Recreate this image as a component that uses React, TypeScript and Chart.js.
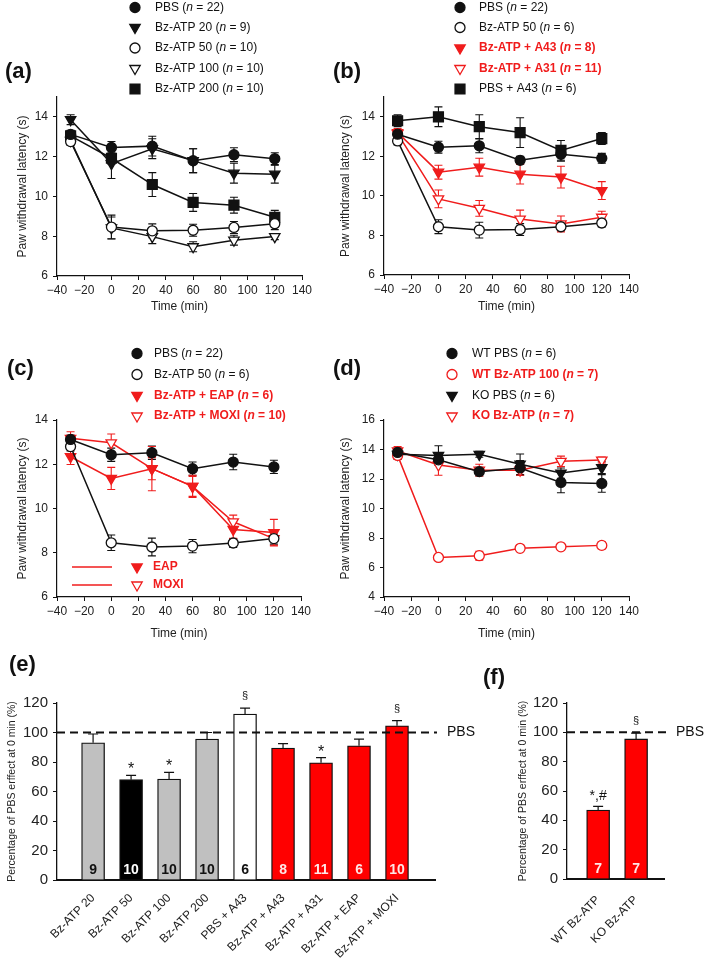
import React, { useEffect, useRef } from "react";
import { Chart, registerables } from "chart.js";
import { drawPoint } from "chart.js/helpers";

Chart.register(...registerables);

const FONT = "'Liberation Sans', Arial, Helvetica, sans-serif";
Chart.defaults.font.family = FONT;
Chart.defaults.color = "#222";

// ---------------- data ----------------
const timePoints = [-30, 0, 30, 60, 90, 120];
const timeTicks = [-40, -20, 0, 20, 40, 60, 80, 100, 120, 140];

// (a)
const aPBS = [13.12, 12.46, 12.53, 11.8, 12.1, 11.9];
const aPBSErr = [0.2, 0.3, 0.5, 0.6, 0.35, 0.3];
const aBz20 = [13.86, 11.65, 12.4, 11.8, 11.17, 11.12];
const aBz20Err = [0.25, 0.75, 0.5, 0.6, 0.5, 0.45];
const aBz50 = [12.76, 8.46, 8.27, 8.3, 8.44, 8.63];
const aBz50Err = [0.2, 0.6, 0.35, 0.3, 0.3, 0.3];
const aBz100 = [12.82, 8.42, 7.98, 7.47, 7.8, 7.98];
const aBz100Err = [0.2, 0.55, 0.35, 0.25, 0.25, 0.15];
const aBz200 = [13.05, 11.92, 10.6, 9.7, 9.56, 8.95];
const aBz200Err = [0.2, 0.3, 0.6, 0.45, 0.4, 0.35];

// (b)
const bPBS = [13.12, 12.46, 12.53, 11.8, 12.1, 11.9];
const bPBSErr = [0.2, 0.3, 0.35, 0.2, 0.35, 0.25];
const bBz50 = [12.78, 8.44, 8.27, 8.3, 8.44, 8.63];
const bBz50Err = [0.2, 0.35, 0.4, 0.3, 0.2, 0.2];
const bA43 = [13.2, 11.2, 11.45, 11.1, 10.95, 10.27];
const bA43Err = [0.2, 0.35, 0.45, 0.5, 0.55, 0.45];
const bA31 = [13.15, 9.85, 9.37, 8.83, 8.58, 8.92];
const bA31Err = [0.2, 0.45, 0.4, 0.45, 0.4, 0.3];
const bPBSA43 = [13.8, 14.0, 13.5, 13.2, 12.3, 12.9];
const bPBSA43Err = [0.3, 0.5, 0.6, 0.75, 0.5, 0.3];

// (c)
const cPBS = [13.12, 12.43, 12.52, 11.8, 12.1, 11.88];
const cPBSErr = [0.2, 0.3, 0.3, 0.3, 0.35, 0.3];
const cBz50 = [12.8, 8.45, 8.26, 8.3, 8.44, 8.64];
const cBz50Err = [0.2, 0.35, 0.4, 0.3, 0.2, 0.25];
const cEAP = [12.34, 11.36, 11.8, 11.0, 9.05, 8.91];
const cEAPErr = [0.35, 0.5, 1.0, 0.45, 0.4, 0.6];
const cMOXI = [13.17, 12.97, 11.8, 11.0, 9.4, 8.64];
const cMOXIErr = [0.3, 0.4, 0.5, 0.5, 0.3, 0.3];

// (d)
const dWTPBS = [13.8, 13.3, 12.5, 12.75, 11.77, 11.7];
const dWTPBSErr = [0.3, 0.35, 0.3, 0.5, 0.7, 0.6];
const dWTBz = [13.6, 6.68, 6.8, 7.3, 7.4, 7.5];
const dWTBzErr = [0.2, 0.12, 0.3, 0.15, 0.15, 0.25];
const dKOPBS = [13.67, 13.6, 13.67, 13.0, 12.4, 12.77];
const dKOPBSErr = [0.35, 0.65, 0.2, 0.7, 0.35, 0.4];
const dKOBz = [13.9, 12.95, 12.6, 12.6, 13.2, 13.28];
const dKOBzErr = [0.3, 0.7, 0.4, 0.35, 0.35, 0.2];

// (e)
const eLabels = ["Bz-ATP 20", "Bz-ATP 50", "Bz-ATP 100", "Bz-ATP 200", "PBS + A43", "Bz-ATP + A43", "Bz-ATP + A31", "Bz-ATP + EAP", "Bz-ATP + MOXI"];
const eValues = [93, 68, 68.5, 95.5, 112.5, 89.5, 79.5, 91, 104.5];
const eErr = [6, 3, 4.5, 4.5, 4, 3, 3.5, 4.5, 3.5];
const eN = ["9", "10", "10", "10", "6", "8", "11", "6", "10"];
const eSig = ["", "*", "*", "", "§", "", "*", "", "§"];

// (f)
const fLabels = ["WT Bz-ATP", "KO Bz-ATP"];
const fValues = [47, 95.5];
const fErr = [2.5, 4];
const fN = ["7", "7"];
const fSig = ["*,#", "§"];

const pbsLevel = 100;
const yTitleLatency = "Paw withdrawal latency (s)";
const yTitlePercent = "Percentage of PBS erffect at 0 min (%)";
const xTitleTime = "Time (min)";

// ---------------- styles ----------------
const RED = "#f01c1c";
const BAR_RED = "#ff0000";
const BLACK = "#111";
const eFills = ["#c0c0c0", "#000000", "#c0c0c0", "#c0c0c0", "#ffffff", BAR_RED, BAR_RED, BAR_RED, BAR_RED];
const eNColors = ["#111", "#fff", "#111", "#111", "#111", "#ffe6e6", "#ffe6e6", "#ffe6e6", "#ffe6e6"];
const fFills = [BAR_RED, BAR_RED];
const fNColors = ["#ffe6e6", "#ffe6e6"];

type Shape = "circle" | "tri" | "rect";
interface Series {
  name: string;
  n: string;
  bold: boolean;
  vals: number[];
  errs: number[];
  color: string;
  filled: boolean;
  shape: Shape;
}

function shapeOpts(shape: Shape) {
  if (shape === "circle") return { pointStyle: "circle", rotation: 0, radius: 5 };
  if (shape === "tri") return { pointStyle: "triangle", rotation: 180, radius: 6 };
  return { pointStyle: "rect", rotation: 0, radius: 7 };
}

function drawRich(ctx: CanvasRenderingContext2D, x: number, y: number, parts: { t: string; italic?: boolean }[], bold: boolean, color: string, size: number) {
  let cx = x;
  ctx.fillStyle = color;
  ctx.textAlign = "left";
  ctx.textBaseline = "middle";
  for (const p of parts) {
    ctx.font = `${p.italic ? "italic " : ""}${bold ? "bold " : ""}${size}px ${FONT}`;
    ctx.fillText(p.t, cx, y);
    cx += ctx.measureText(p.t).width;
  }
}

function drawMarker(ctx: CanvasRenderingContext2D, shape: Shape, filled: boolean, color: string, x: number, y: number) {
  const o = shapeOpts(shape);
  ctx.save();
  ctx.fillStyle = filled ? color : "#fff";
  ctx.strokeStyle = color;
  ctx.lineWidth = 1.3;
  drawPoint(ctx, { pointStyle: o.pointStyle as any, rotation: o.rotation, radius: o.radius, borderWidth: 1.3 }, x, y);
  ctx.restore();
}

interface LinePanel {
  series: Series[];
  ox: number;
  oy: number;
  w: number;
  h: number;
  yMin: number;
  yMax: number;
  yTicks: number[];
  padRight: number;
  padTop: number;
  yWidth: number;
  xHeight: number;
  yTitlePad: number;
  xTitlePad: number;
  letter: { t: string; x: number; y: number };
  legend: { mx: number; tx: number; rows: number[] };
  inner?: { x1: number; x2: number; mx: number; tx: number; rows: number[]; items: { shape: Shape; filled: boolean; t: string }[] };
}

function lineConfig(p: LinePanel): any {
  const errPlugin = {
    id: "errbars",
    beforeDatasetsDraw(chart: any) {
      const ctx = chart.ctx;
      const xs = chart.scales.x;
      const ys = chart.scales.y;
      ctx.save();
      chart.data.datasets.forEach((ds: any) => {
        ctx.strokeStyle = ds.borderColor;
        ctx.lineWidth = 1.1;
        ds.data.forEach((pt: any, i: number) => {
          const e = ds.errors[i];
          const x = xs.getPixelForValue(pt.x);
          const y1 = ys.getPixelForValue(pt.y + e);
          const y2 = ys.getPixelForValue(pt.y - e);
          ctx.beginPath();
          ctx.moveTo(x, y1);
          ctx.lineTo(x, y2);
          ctx.moveTo(x - 4, y1);
          ctx.lineTo(x + 4, y1);
          ctx.moveTo(x - 4, y2);
          ctx.lineTo(x + 4, y2);
          ctx.stroke();
        });
      });
      ctx.restore();
    },
  };
  const decoPlugin = {
    id: "deco",
    afterDraw(chart: any) {
      const ctx = chart.ctx as CanvasRenderingContext2D;
      ctx.save();
      ctx.font = `bold 22px ${FONT}`;
      ctx.fillStyle = "#111";
      ctx.textAlign = "left";
      ctx.textBaseline = "middle";
      ctx.fillText(p.letter.t, p.letter.x - p.ox, p.letter.y - p.oy);
      p.series.forEach((s, i) => {
        const y = p.legend.rows[i] - p.oy;
        drawMarker(ctx, s.shape, s.filled, s.color, p.legend.mx - p.ox, y);
        drawRich(ctx, p.legend.tx - p.ox, y, [{ t: s.name + " (" }, { t: "n", italic: true }, { t: " = " + s.n + ")" }], s.bold, s.bold ? RED : "#111", 12);
      });
      if (p.inner) {
        const inn = p.inner;
        inn.items.forEach((it, i) => {
          const y = inn.rows[i] - p.oy;
          ctx.strokeStyle = RED;
          ctx.lineWidth = 1.5;
          ctx.beginPath();
          ctx.moveTo(inn.x1 - p.ox, y);
          ctx.lineTo(inn.x2 - p.ox, y);
          ctx.stroke();
          drawMarker(ctx, it.shape, it.filled, RED, inn.mx - p.ox, y);
          drawRich(ctx, inn.tx - p.ox, y, [{ t: it.t }], true, RED, 12);
        });
      }
      ctx.restore();
    },
  };
  return {
    type: "line",
    data: {
      datasets: p.series.map((s) => {
        const o = shapeOpts(s.shape);
        return {
          label: s.name,
          data: timePoints.map((t, i) => ({ x: t, y: s.vals[i] })),
          errors: s.errs,
          borderColor: s.color,
          borderWidth: 1.5,
          pointStyle: o.pointStyle,
          pointRotation: o.rotation,
          pointRadius: o.radius,
          pointBackgroundColor: s.filled ? s.color : "#fff",
          pointBorderColor: s.color,
          pointBorderWidth: 1.3,
          tension: 0,
          clip: false,
        };
      }),
    },
    options: {
      animation: false,
      responsive: false,
      devicePixelRatio: 1,
      events: [],
      layout: { padding: { left: 0, right: p.padRight, top: p.padTop, bottom: 0 } },
      plugins: { legend: { display: false }, tooltip: { enabled: false } },
      scales: {
        x: {
          type: "linear",
          min: -40,
          max: 140,
          afterBuildTicks: (s: any) => {
            s.ticks = timeTicks.map((v) => ({ value: v }));
          },
          afterFit: (s: any) => {
            s.height = p.xHeight;
          },
          ticks: {
            font: { size: 12 },
            padding: 3,
            color: "#222",
            callback: (v: number) => (v < 0 ? "\u2212" + Math.abs(v) : String(v)),
          },
          grid: { drawOnChartArea: false, tickLength: 4, color: BLACK },
          border: { color: BLACK, width: 1.2 },
          title: { display: true, text: xTitleTime, font: { size: 12 }, color: "#222", padding: { top: 0, bottom: p.xTitlePad } },
        },
        y: {
          type: "linear",
          min: p.yMin,
          max: p.yMax,
          afterBuildTicks: (s: any) => {
            s.ticks = p.yTicks.map((v) => ({ value: v }));
          },
          afterFit: (s: any) => {
            s.width = p.yWidth;
          },
          ticks: { font: { size: 12 }, padding: 5, color: "#222" },
          grid: { drawOnChartArea: false, tickLength: 4, color: BLACK },
          border: { color: BLACK, width: 1.2 },
          title: { display: true, text: yTitleLatency, font: { size: 12 }, color: "#222", padding: { top: p.yTitlePad, bottom: 0 } },
        },
      },
    },
    plugins: [errPlugin, decoPlugin],
  };
}

interface BarPanel {
  labels: string[];
  values: number[];
  errs: number[];
  ns: string[];
  sigs: string[];
  fills: string[];
  nColors: string[];
  ox: number;
  oy: number;
  w: number;
  h: number;
  xMin: number;
  xMax: number;
  padRight: number;
  padTop: number;
  yWidth: number;
  xHeight: number;
  yTitlePad: number;
  labelPad: number;
  letter: { t: string; x: number; y: number };
}

function barConfig(p: BarPanel): any {
  const extras = {
    id: "barExtras",
    afterDatasetsDraw(chart: any) {
      const ctx = chart.ctx as CanvasRenderingContext2D;
      const xs = chart.scales.x;
      const ys = chart.scales.y;
      const area = chart.chartArea;
      const zero = ys.getPixelForValue(0);
      ctx.save();
      p.values.forEach((v, i) => {
        const x = xs.getPixelForValue(i + 1);
        const yv = ys.getPixelForValue(v);
        const ye = ys.getPixelForValue(v + p.errs[i]);
        ctx.strokeStyle = BLACK;
        ctx.lineWidth = 1.2;
        ctx.beginPath();
        ctx.moveTo(x, yv);
        ctx.lineTo(x, ye);
        ctx.moveTo(x - 5, ye);
        ctx.lineTo(x + 5, ye);
        ctx.stroke();
        ctx.font = `bold 14px ${FONT}`;
        ctx.fillStyle = p.nColors[i];
        ctx.textAlign = "center";
        ctx.textBaseline = "alphabetic";
        ctx.fillText(p.ns[i], x, zero - 6);
        const sg = p.sigs[i];
        if (sg) {
          ctx.fillStyle = "#111";
          if (sg === "*") {
            ctx.font = `16px ${FONT}`;
            ctx.fillText(sg, x, ye - 1);
          } else if (sg === "§") {
            ctx.font = `11px ${FONT}`;
            ctx.fillText(sg, x, ye - 9);
          } else {
            ctx.font = `14px ${FONT}`;
            ctx.fillText(sg, x, ye - 6);
          }
        }
      });
      const yp = ys.getPixelForValue(pbsLevel);
      ctx.strokeStyle = "#111";
      ctx.lineWidth = 2;
      ctx.setLineDash([8, 5]);
      ctx.beginPath();
      ctx.moveTo(area.left, yp);
      ctx.lineTo(area.right + 2, yp);
      ctx.stroke();
      ctx.setLineDash([]);
      ctx.font = `14px ${FONT}`;
      ctx.fillStyle = "#111";
      ctx.textAlign = "left";
      ctx.textBaseline = "middle";
      ctx.fillText("PBS", area.right + 12, yp);
      ctx.font = `bold 22px ${FONT}`;
      ctx.fillText(p.letter.t, p.letter.x - p.ox, p.letter.y - p.oy);
      ctx.restore();
    },
  };
  return {
    type: "bar",
    data: {
      datasets: [
        {
          data: p.values.map((v, i) => ({ x: i + 1, y: v })),
          backgroundColor: p.fills,
          borderColor: BLACK,
          borderWidth: 1.3,
          barThickness: 23,
        },
      ],
    },
    options: {
      animation: false,
      responsive: false,
      devicePixelRatio: 1,
      events: [],
      layout: { padding: { left: 0, right: p.padRight, top: p.padTop, bottom: 0 } },
      plugins: { legend: { display: false }, tooltip: { enabled: false } },
      scales: {
        x: {
          type: "linear",
          min: p.xMin,
          max: p.xMax,
          offset: false,
          afterBuildTicks: (s: any) => {
            s.ticks = p.labels.map((_, i) => ({ value: i + 1 }));
          },
          afterFit: (s: any) => {
            s.height = p.xHeight;
          },
          ticks: {
            autoSkip: false,
            minRotation: 45,
            maxRotation: 45,
            font: { size: 12 },
            padding: p.labelPad,
            color: "#222",
            callback: (v: number) => p.labels[Math.round(v) - 1] ?? "",
          },
          grid: { display: false, drawTicks: false, offset: false },
          border: { color: BLACK, width: 2 },
        },
        y: {
          type: "linear",
          min: 0,
          max: 120,
          afterBuildTicks: (s: any) => {
            s.ticks = [0, 20, 40, 60, 80, 100, 120].map((v) => ({ value: v }));
          },
          afterFit: (s: any) => {
            s.width = p.yWidth;
          },
          ticks: { font: { size: 15 }, padding: 5, color: "#222" },
          grid: { drawOnChartArea: false, tickLength: 4, color: BLACK },
          border: { color: BLACK, width: 1.3 },
          title: { display: true, text: yTitlePercent, font: { size: 10.5 }, color: "#222", padding: { top: p.yTitlePad, bottom: 0 } },
        },
      },
    },
    plugins: [extras],
  };
}

function ChartBox({ left, top, w, h, make }: { left: number; top: number; w: number; h: number; make: () => any }) {
  const ref = useRef<HTMLCanvasElement | null>(null);
  useEffect(() => {
    if (!ref.current) return;
    const chart = new Chart(ref.current, make());
    return () => chart.destroy();
  }, []);
  return <canvas ref={ref} width={w} height={h} style={{ position: "absolute", left, top, width: w, height: h }} />;
}

const panelA: LinePanel = {
  series: [
    { name: "PBS", n: "22", bold: false, vals: aPBS, errs: aPBSErr, color: BLACK, filled: true, shape: "circle" },
    { name: "Bz-ATP 20", n: "9", bold: false, vals: aBz20, errs: aBz20Err, color: BLACK, filled: true, shape: "tri" },
    { name: "Bz-ATP 50", n: "10", bold: false, vals: aBz50, errs: aBz50Err, color: BLACK, filled: false, shape: "circle" },
    { name: "Bz-ATP 100", n: "10", bold: false, vals: aBz100, errs: aBz100Err, color: BLACK, filled: false, shape: "tri" },
    { name: "Bz-ATP 200", n: "10", bold: false, vals: aBz200, errs: aBz200Err, color: BLACK, filled: true, shape: "rect" },
  ],
  ox: 0, oy: 0, w: 330, h: 318,
  yMin: 6, yMax: 15, yTicks: [6, 8, 10, 12, 14],
  padRight: 28, padTop: 97, yWidth: 57, xHeight: 42, yTitlePad: 15, xTitlePad: 4,
  letter: { t: "(a)", x: 5, y: 72 },
  legend: { mx: 135, tx: 155, rows: [7.5, 27.5, 48, 68.5, 89] },
};

const panelB: LinePanel = {
  series: [
    { name: "PBS", n: "22", bold: false, vals: bPBS, errs: bPBSErr, color: BLACK, filled: true, shape: "circle" },
    { name: "Bz-ATP 50", n: "6", bold: false, vals: bBz50, errs: bBz50Err, color: BLACK, filled: false, shape: "circle" },
    { name: "Bz-ATP + A43", n: "8", bold: true, vals: bA43, errs: bA43Err, color: RED, filled: true, shape: "tri" },
    { name: "Bz-ATP + A31", n: "11", bold: true, vals: bA31, errs: bA31Err, color: RED, filled: false, shape: "tri" },
    { name: "PBS + A43", n: "6", bold: false, vals: bPBSA43, errs: bPBSA43Err, color: BLACK, filled: true, shape: "rect" },
  ],
  ox: 330, oy: 0, w: 379, h: 318,
  yMin: 6, yMax: 15, yTicks: [6, 8, 10, 12, 14],
  padRight: 80, padTop: 97, yWidth: 54, xHeight: 43, yTitlePad: 8, xTitlePad: 4,
  letter: { t: "(b)", x: 333, y: 72 },
  legend: { mx: 460, tx: 479, rows: [7.5, 27.5, 48, 68.5, 89] },
};

const panelC: LinePanel = {
  series: [
    { name: "PBS", n: "22", bold: false, vals: cPBS, errs: cPBSErr, color: BLACK, filled: true, shape: "circle" },
    { name: "Bz-ATP 50", n: "6", bold: false, vals: cBz50, errs: cBz50Err, color: BLACK, filled: false, shape: "circle" },
    { name: "Bz-ATP + EAP", n: "6", bold: true, vals: cEAP, errs: cEAPErr, color: RED, filled: true, shape: "tri" },
    { name: "Bz-ATP + MOXI", n: "10", bold: true, vals: cMOXI, errs: cMOXIErr, color: RED, filled: false, shape: "tri" },
  ],
  ox: 0, oy: 318, w: 330, h: 325,
  yMin: 6, yMax: 14, yTicks: [6, 8, 10, 12, 14],
  padRight: 29, padTop: 102, yWidth: 57, xHeight: 46, yTitlePad: 15, xTitlePad: 2,
  letter: { t: "(c)", x: 7, y: 369 },
  legend: { mx: 137, tx: 154, rows: [353.5, 374.5, 395.5, 416] },
  inner: {
    x1: 72, x2: 112, mx: 137, tx: 153, rows: [567, 585],
    items: [
      { shape: "tri", filled: true, t: "EAP" },
      { shape: "tri", filled: false, t: "MOXI" },
    ],
  },
};

const panelD: LinePanel = {
  series: [
    { name: "WT PBS", n: "6", bold: false, vals: dWTPBS, errs: dWTPBSErr, color: BLACK, filled: true, shape: "circle" },
    { name: "WT Bz-ATP 100", n: "7", bold: true, vals: dWTBz, errs: dWTBzErr, color: RED, filled: false, shape: "circle" },
    { name: "KO PBS", n: "6", bold: false, vals: dKOPBS, errs: dKOPBSErr, color: BLACK, filled: true, shape: "tri" },
    { name: "KO Bz-ATP", n: "7", bold: true, vals: dKOBz, errs: dKOBzErr, color: RED, filled: false, shape: "tri" },
  ],
  ox: 330, oy: 318, w: 379, h: 325,
  yMin: 4, yMax: 16, yTicks: [4, 6, 8, 10, 12, 14, 16],
  padRight: 80, padTop: 102, yWidth: 54, xHeight: 46, yTitlePad: 8, xTitlePad: 2,
  letter: { t: "(d)", x: 333, y: 369 },
  legend: { mx: 452, tx: 472, rows: [353.5, 374.5, 395.5, 416] },
};

const panelE: BarPanel = {
  labels: eLabels, values: eValues, errs: eErr, ns: eN, sigs: eSig, fills: eFills, nColors: eNColors,
  ox: 0, oy: 643, w: 480, h: 325,
  xMin: 0.05, xMax: 10, padRight: 45, padTop: 60, yWidth: 57, xHeight: 88, yTitlePad: 6, labelPad: 11,
  letter: { t: "(e)", x: 9, y: 665 },
};

const panelF: BarPanel = {
  labels: fLabels, values: fValues, errs: fErr, ns: fN, sigs: fSig, fills: fFills, nColors: fNColors,
  ox: 480, oy: 643, w: 229, h: 325,
  xMin: 0.18, xMax: 2.735, padRight: 45, padTop: 60, yWidth: 87, xHeight: 89, yTitlePad: 37, labelPad: 14,
  letter: { t: "(f)", x: 483, y: 678 },
};

export default function App() {
  return (
    <div style={{ position: "absolute", left: 0, top: 0, width: 709, height: 968, background: "#fff", overflow: "hidden" }}>
      <ChartBox left={panelA.ox} top={panelA.oy} w={panelA.w} h={panelA.h} make={() => lineConfig(panelA)} />
      <ChartBox left={panelB.ox} top={panelB.oy} w={panelB.w} h={panelB.h} make={() => lineConfig(panelB)} />
      <ChartBox left={panelC.ox} top={panelC.oy} w={panelC.w} h={panelC.h} make={() => lineConfig(panelC)} />
      <ChartBox left={panelD.ox} top={panelD.oy} w={panelD.w} h={panelD.h} make={() => lineConfig(panelD)} />
      <ChartBox left={panelE.ox} top={panelE.oy} w={panelE.w} h={panelE.h} make={() => barConfig(panelE)} />
      <ChartBox left={panelF.ox} top={panelF.oy} w={panelF.w} h={panelF.h} make={() => barConfig(panelF)} />
    </div>
  );
}
